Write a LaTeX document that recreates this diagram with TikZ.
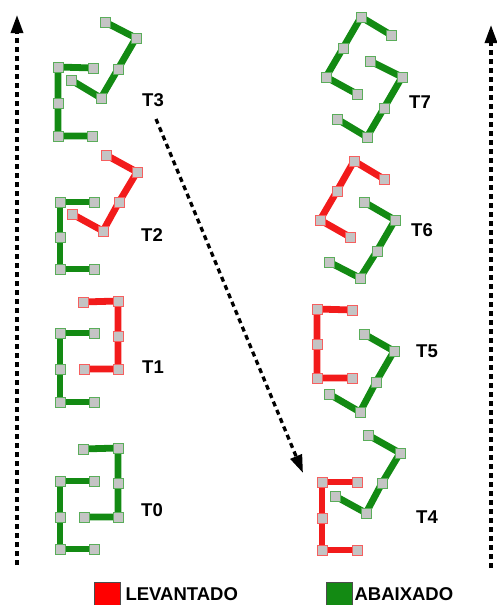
\documentclass[tikz,border=0pt]{standalone}
\usepackage{fontspec}
\setmainfont{Liberation Sans}
\usetikzlibrary{arrows.meta}
\pgfdeclarelayer{bg}
\pgfsetlayers{bg,main}
\definecolor{upred}{HTML}{F21B1B}
\definecolor{downgreen}{HTML}{138A13}
\definecolor{jointgray}{HTML}{C4C4C4}
\tikzset{
  link/.style={line width=6.8pt},
  joint/.style={draw=#1!70!white, fill=jointgray, line width=0.9pt, minimum size=10pt, inner sep=0pt, rectangle},
  tlabel/.style={font=\bfseries\fontsize{18.5}{18.5}\selectfont},
  legtext/.style={font=\bfseries\fontsize{18.5}{18.5}\selectfont, anchor=west},
  trail/.style={line width=3.3pt, dash pattern=on 5pt off 4pt, -{Triangle[length=18pt,width=12pt]}},
}
% #1 name, #2 color, #3..#7 joint positions
\newcommand{\robotleg}[7]{%
  \node[joint=#2] (#1a) at (#3) {};
  \node[joint=#2] (#1b) at (#4) {};
  \node[joint=#2] (#1c) at (#5) {};
  \node[joint=#2] (#1d) at (#6) {};
  \node[joint=#2] (#1e) at (#7) {};
  \begin{pgfonlayer}{bg}
    \draw[link,#2] (#1a.center) -- (#1b.center) -- (#1c.center) -- (#1d.center) -- (#1e.center);
  \end{pgfonlayer}
}
\begin{document}
\begin{tikzpicture}[x=1pt,y=-1pt]
\useasboundingbox (0,0) rectangle (497,605);
% T0
\robotleg{t0u}{downgreen}{83,449}{118,448}{118,483}{118,517}{84,517}
\robotleg{t0l}{downgreen}{94,481}{60,481}{60,517}{60,549}{94,549}
\node[tlabel] (T0) at (152,510) {T0};
% T1
\robotleg{t1u}{upred}{83,302}{118,301}{118,336}{118,369}{84,369}
\robotleg{t1l}{downgreen}{94,333}{60,333}{60,369}{60,402}{94,402}
\node[tlabel] (T1) at (153,367) {T1};
% T2
\robotleg{t2u}{upred}{106,155}{137,172}{119,202}{103,231}{72,214}
\robotleg{t2l}{downgreen}{94,202}{60,202}{60,237}{60,269}{94,269}
\node[tlabel] (T2) at (152,235) {T2};
% T3
\robotleg{t3u}{downgreen}{105,22}{136,38}{118,69}{101,98}{71,80}
\robotleg{t3l}{downgreen}{93,68}{58,67}{58,103}{58,136}{92,136}
\node[tlabel] (T3) at (153,100) {T3};
% T4
\robotleg{t4u}{downgreen}{368,435}{400,453}{382,483}{366,513}{335,496}
\robotleg{t4l}{upred}{357,482}{322,482}{322,518}{322,550}{357,550}
\node[tlabel] (T4) at (427,517) {T4};
% T5
\robotleg{t5u}{upred}{352,310}{317,309}{317,344}{317,378}{352,378}
\robotleg{t5l}{downgreen}{364,334}{394,351}{376,382}{360,412}{329,394}
\node[tlabel] (T5) at (427,351) {T5};
% T6
\robotleg{t6u}{upred}{384,179}{354,161}{337,191}{320,220}{350,237}
\robotleg{t6l}{downgreen}{364,202}{395,220}{377,251}{360,278}{329,262}
\node[tlabel] (T6) at (422,230) {T6};
% T7
\robotleg{t7u}{downgreen}{391,35}{361,17}{343,48}{326,77}{357,94}
\robotleg{t7l}{downgreen}{370,61}{402,77}{384,108}{367,137}{337,119}
\node[tlabel] (T7) at (420,102) {T7};
% time arrows
\coordinate (lbot) at (17,565);
\coordinate (ltop) at (17,15);
\coordinate (rbot) at (491,568);
\coordinate (rtop) at (491,25);
\draw[trail] (lbot) -- (ltop);
\draw[trail] (rbot) -- (rtop);
\coordinate (dstart) at (156,119);
\coordinate (dend) at (303,473);
\draw[trail] (dstart) -- (dend);
% legend
\node[draw=black!70, fill=red, minimum size=26pt, inner sep=0pt, line width=0.6pt] (redkey) at (107,595) {};
\node[legtext] (redtext) at (122,594) {LEVANTADO};
\node[draw=black!70, fill=downgreen, minimum size=26pt, inner sep=0pt, line width=0.6pt] (greenkey) at (339,595) {};
\node[legtext] (greentext) at (351,594) {ABAIXADO};
\end{tikzpicture}
\end{document}
